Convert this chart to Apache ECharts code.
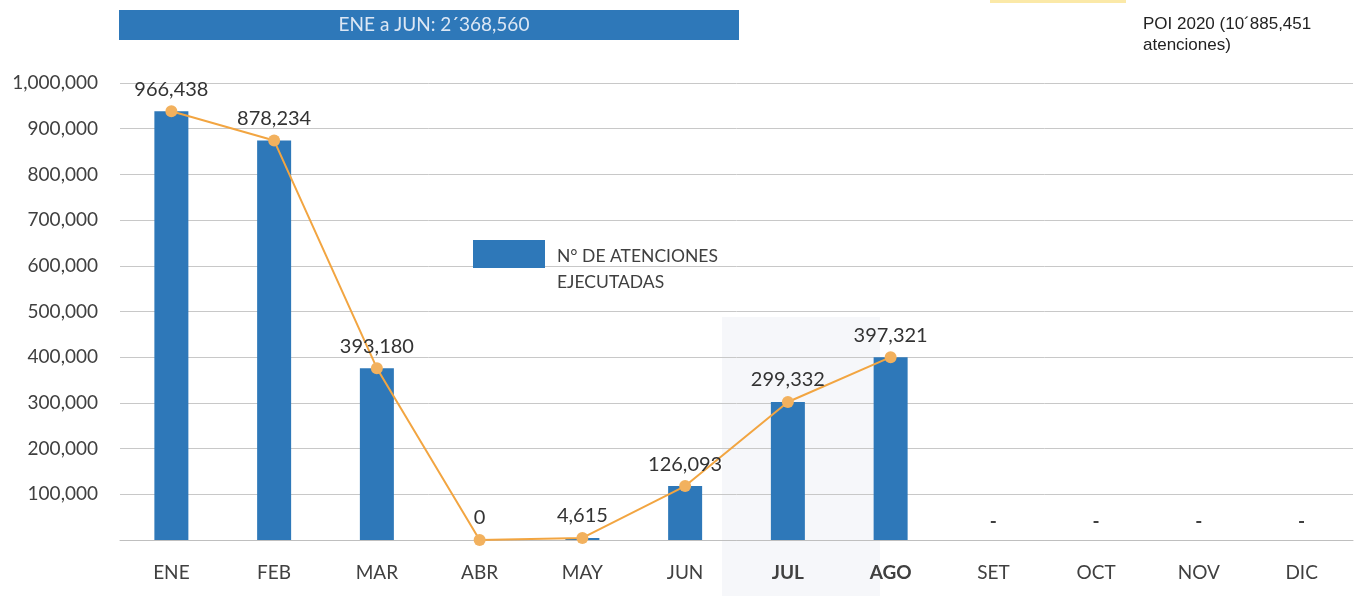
<!DOCTYPE html>
<html>
<head>
<meta charset="utf-8">
<script src="https://cdn.jsdelivr.net/npm/echarts@6/dist/echarts.min.js"></script>
<style>
  html, body { margin: 0; padding: 0; background: #fff; }
  #chart { width: 1359px; height: 596px; }
</style>
</head>
<body>
<div id="chart"></div>
<script>
var meses = ['ENE', 'FEB', 'MAR', 'ABR', 'MAY', 'JUN', 'JUL', 'AGO', 'SET', 'OCT', 'NOV', 'DIC'];
// alturas tal como se ven dibujadas en el grafico
var atenciones = [938000, 874000, 376000, 0, 4615, 118000, 302000, 400000, 0, 0, 0, 0];
var tendencia = [938000, 874000, 376000, 0, 4615, 118000, 302000, 400000, null, null, null, null];
// etiquetas escritas sobre cada mes
var etiquetas = ['966,438', '878,234', '393,180', '0', '4,615', '126,093', '299,332', '397,321', '-', '-', '-', '-'];
var mesesResaltados = ['JUL', 'AGO'];

var chartDom = document.getElementById('chart');
var myChart = echarts.init(chartDom);
var option;

var fuente = 'Lato, "Open Sans", sans-serif';

option = {
  animation: false,
  backgroundColor: '#ffffff',
  grid: {
    left: 120,
    right: 6,
    top: 83,
    bottom: 56
  },
  graphic: [
    {
      type: 'rect',
      shape: { x: 722, y: 317, width: 158, height: 279 },
      style: { fill: '#f6f7fa' },
      z: -10
    },
    {
      type: 'rect',
      shape: { x: 119, y: 10, width: 620, height: 30 },
      style: { fill: '#2e78b9' }
    },
    {
      type: 'text',
      x: 434,
      y: 25,
      style: {
        text: 'ENE a JUN: 2´368,560',
        fill: '#dce7f4',
        font: '19px ' + fuente,
        textAlign: 'center',
        textVerticalAlign: 'middle'
      }
    },
    {
      type: 'rect',
      shape: { x: 990, y: 0, width: 136, height: 3 },
      style: { fill: '#fbe9a8' }
    },
    {
      type: 'text',
      left: 1143,
      top: 14,
      style: {
        text: 'POI 2020 (10´885,451\natenciones)',
        fill: '#222222',
        font: '17px "Liberation Sans", Arial, sans-serif',
        lineHeight: 21
      }
    }
  ],
  legend: {
    data: [{ name: 'N° DE ATENCIONES\nEJECUTADAS', icon: 'rect' }],
    left: 468,
    top: 218,
    itemWidth: 72,
    itemHeight: 28,
    formatter: function (n) {
      var partes = n.split('\n');
      return '{s| }\n{t|' + partes[0] + '}\n{t|' + partes[1] + '}';
    },
    textStyle: {
      rich: {
        s: { fontSize: 10, lineHeight: 30 },
        t: { fontFamily: fuente, fontSize: 17.5, color: '#404040', lineHeight: 26, padding: [0, 0, 0, 7] }
      }
    }
  },
  xAxis: {
    type: 'category',
    data: meses,
    axisLine: { show: true, lineStyle: { color: '#bfbfbf' } },
    axisTick: { show: false },
    axisLabel: {
      margin: 23,
      fontFamily: fuente,
      fontSize: 19,
      color: '#404040',
      formatter: function (v) {
        return mesesResaltados.indexOf(v) >= 0 ? '{b|' + v + '}' : v;
      },
      rich: {
        b: { fontFamily: fuente, fontSize: 19, fontWeight: 'bold', color: '#404040' }
      }
    }
  },
  yAxis: {
    type: 'value',
    min: 0,
    max: 1000000,
    interval: 100000,
    axisLine: { show: false },
    axisTick: { show: false },
    splitLine: { lineStyle: { color: '#c8c8c8', width: 1 } },
    axisLabel: {
      margin: 22,
      fontFamily: fuente,
      fontSize: 19,
      color: '#404040',
      formatter: function (v) {
        if (v === 0) return '';
        return v.toLocaleString('en-US');
      }
    }
  },
  series: [
    {
      name: 'N° DE ATENCIONES\nEJECUTADAS',
      type: 'bar',
      data: atenciones,
      barWidth: 34,
      itemStyle: { color: '#2e78b9' },
      label: {
        show: true,
        position: 'top',
        distance: 9,
        fontFamily: fuente,
        fontSize: 19,
        fontWeight: 'bold',
        color: '#404040',
        formatter: function (p) {
          return p.dataIndex >= 8 ? etiquetas[p.dataIndex] : '';
        }
      }
    },
    {
      name: 'Tendencia',
      type: 'line',
      data: tendencia,
      symbol: 'circle',
      symbolSize: 12,
      lineStyle: { color: '#f2a541', width: 2 },
      itemStyle: { color: '#f2b15e' },
      label: {
        show: true,
        position: 'top',
        distance: 6,
        fontFamily: fuente,
        fontSize: 20,
        color: '#333333',
        formatter: function (p) {
          return etiquetas[p.dataIndex];
        }
      },
      z: 5
    }
  ]
};

option && myChart.setOption(option);
</script>
</body>
</html>
